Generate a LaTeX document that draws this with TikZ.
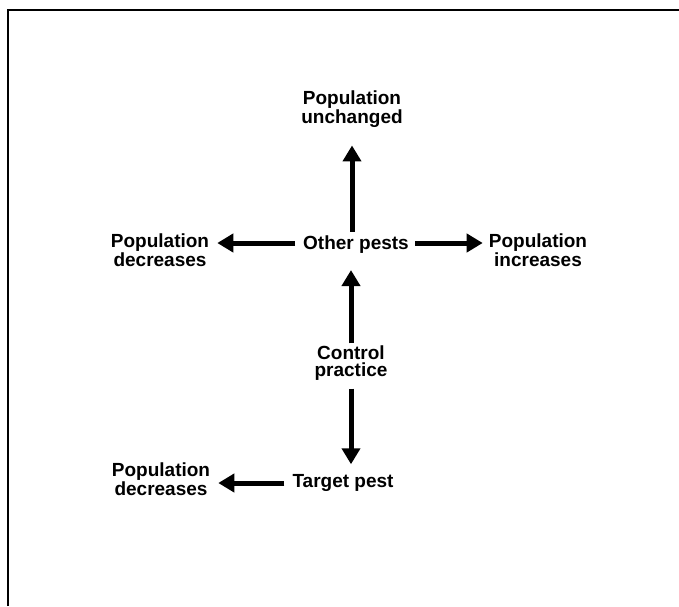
\documentclass[tikz,border=0pt]{standalone}
\usepackage{fontspec}
\setmainfont{Liberation Sans}
\usetikzlibrary{arrows.meta}
\begin{document}
\begin{tikzpicture}[x=1pt,y=-1pt,
  lbl/.style={inner sep=0pt, align=center, font=\bfseries\fontsize{19}{17}\selectfont},
  bigarrow/.style={line width=5pt, -{Triangle[width=18pt,length=16pt]}}]
\useasboundingbox (0,0) rectangle (679,606);
\draw[line width=1.6pt] (8,606) -- (8,10) -- (679,10);

\node[lbl] (unch) at (352,109) {Population\\unchanged};
\node[lbl] (other) at (356,245) {Other pests};
\node[lbl] (decL) at (160,250) {Population\\decreases};
\node[lbl] (incR) at (538,250) {Population\\increases};
\node[lbl] (ctrl) at (351,363) {Control\\practice};
\node[lbl] (target) at (343,483) {Target pest};
\node[lbl] (decB) at (161,479) {Population\\decreases};

\draw[bigarrow, shorten <=4pt, shorten >=18pt] (other.north -| unch.south) -- (unch.south);
\draw[bigarrow, shorten <=8pt, shorten >=8pt] ([yshift=2pt]other.west) -- ([yshift=2pt]other.west -| decL.east);
\draw[bigarrow, shorten <=6pt, shorten >=6pt] ([yshift=2pt]other.east) -- ([yshift=2pt]other.east -| incR.west);
\draw[bigarrow, shorten <=2pt, shorten >=16pt] (ctrl.north) -- (ctrl.north |- other.south);
\draw[bigarrow, shorten <=8pt, shorten >=10pt] (ctrl.south) -- (ctrl.south |- target.north);
\draw[bigarrow, shorten <=8pt, shorten >=8pt] (target.west) -- (target.west -| decB.east);
\end{tikzpicture}
\end{document}
